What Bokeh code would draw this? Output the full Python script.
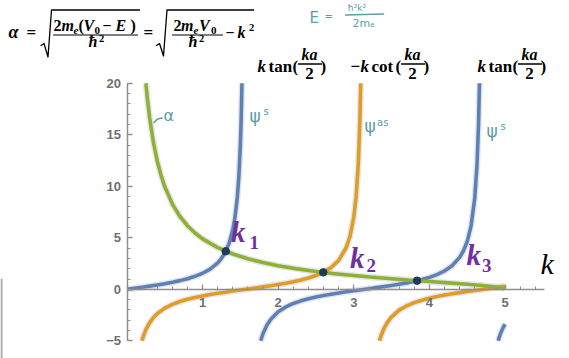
from bokeh.plotting import figure
from bokeh.models import LinearAxis, FixedTicker, Range1d
from bokeh.core.properties import value
from bokeh.embed import file_html
from bokeh.resources import INLINE

# ---------------- data ----------------
# k tan(ka/2) (blue), branch 1
tan1_k = [0, 0.1, 0.2, 0.3, 0.4, 0.5, 0.6, 0.7, 0.8, 0.9, 1.0, 1.1, 1.2, 1.25, 1.3,
          1.35, 1.4, 1.43, 1.46, 1.48, 1.5, 1.51, 1.5208]
tan1_y = [0, 0.100, 0.203, 0.309, 0.423, 0.546, 0.684, 0.842, 1.030, 1.260, 1.557,
          1.965, 2.572, 3.010, 3.602, 4.455, 5.798, 7.06, 8.99, 10.99, 14.10, 16.43, 20.0]
# blue, branch 2
tan2_k = [1.7682, 1.8, 1.85, 1.9, 2.0, 2.1, 2.2, 2.3, 2.4, 2.5, 2.6, 2.7, 2.8, 2.9, 3.0,
          3.1, 3.2, 3.3, 3.4, 3.5, 3.6, 3.7, 3.8, 3.9, 4.0, 4.1, 4.2, 4.3, 4.4, 4.45, 4.5,
          4.55, 4.6, 4.63, 4.65, 4.6624]
tan2_y = [-5.0, -4.286, -3.488, -2.927, -2.185, -1.710, -1.374, -1.119, -0.915, -0.747,
          -0.602, -0.472, -0.356, -0.246, -0.143, -0.042, 0.058, 0.160, 0.264, 0.375,
          0.494, 0.625, 0.774, 0.947, 1.158, 1.424, 1.778, 2.286, 3.096, 3.723, 4.637,
          6.105, 8.86, 12.11, 16.0, 20.0]
# blue, branch 3
tan3_k = [4.9098, 4.93, 4.95, 4.975, 5.0]
tan3_y = [-5.0, -4.523, -4.132, -3.720, -3.381]
# -k cot(ka/2) (orange), branch 1
cot1_k = [0.1974, 0.22, 0.25, 0.3, 0.35, 0.4, 0.5, 0.6, 0.7, 0.8, 0.9, 1.0, 1.1, 1.2, 1.3,
          1.4, 1.5, 1.6, 1.7, 1.8, 1.9, 2.0, 2.1, 2.2, 2.3, 2.4, 2.5, 2.6, 2.7, 2.8, 2.9,
          2.95, 3.0, 3.03, 3.06, 3.08, 3.0916]
cot1_y = [-5.0, -4.472, -3.916, -3.233, -2.740, -2.365, -1.830, -1.462, -1.187, -0.971,
          -0.794, -0.642, -0.509, -0.389, -0.278, -0.172, -0.071, 0.029, 0.130, 0.233,
          0.342, 0.458, 0.585, 0.728, 0.894, 1.093, 1.339, 1.662, 2.118, 2.813, 4.058,
          5.155, 7.018, 8.92, 12.23, 16.21, 20.0]
# orange, branch 2
cot2_k = [3.339, 3.36, 3.4, 3.45, 3.5, 3.6, 3.7, 3.8, 3.9, 4.0, 4.1, 4.2, 4.3, 4.4, 4.5,
          4.6, 4.7, 4.8, 4.9, 5.0]
cot2_y = [-5.0, -4.507, -3.784, -3.140, -2.669, -2.026, -1.601, -1.293, -1.056, -0.864,
          -0.703, -0.563, -0.437, -0.323, -0.216, -0.113, -0.012, 0.088, 0.190, 0.296]
# alpha (green)
alpha_k = [0.2497, 0.27, 0.3, 0.35, 0.4, 0.45, 0.5, 0.6, 0.7, 0.8, 0.9, 1.0, 1.2, 1.4, 1.6,
           1.8, 2.0, 2.25, 2.5, 2.75, 3.0, 3.25, 3.5, 3.75, 4.0, 4.25, 4.5, 4.7, 4.85,
           4.95, 4.99, 5.0]
alpha_y = [20.0, 18.49, 16.64, 14.25, 12.46, 11.07, 9.950, 8.273, 7.073, 6.169, 5.465,
           4.899, 4.045, 3.429, 2.961, 2.592, 2.291, 1.985, 1.732, 1.518, 1.333, 1.169,
           1.020, 0.882, 0.750, 0.620, 0.484, 0.363, 0.251, 0.143, 0.063, 0.0]
# intersections k1, k2, k3
roots_k = [1.306, 2.596, 3.837]
roots_y = [3.694, 1.646, 0.836]
root_names = ["1", "2", "3"]

x_ticks = [1, 2, 3, 4, 5]
y_ticks = [-5, 0, 5, 10, 15, 20]

# ---------------- layout ----------------
W, H = 569, 358
PX0, PXU = 126.5, 75.6      # pixel of k=0, pixels per unit
PY0, PYU = 288.8, 10.3      # pixel of y=0, pixels per unit
XS, XE = -PX0 / PXU, (W - PX0) / PXU
YS, YE = (PY0 - H) / PYU, PY0 / PYU

BLUE = "#5E81B5"
ORANGE = "#E19C24"
GREEN = "#8FB032"
TEAL = "#5b9ea8"
PURPLE = "#7030A0"
AXIS = "#8f8f8f"

p = figure(width=W, height=H, x_range=Range1d(XS, XE), y_range=Range1d(YS, YE),
           x_axis_type=None, y_axis_type=None, toolbar_location=None,
           output_backend="svg", min_border=0, outline_line_color=None)
p.background_fill_color = "white"
p.border_fill_color = "white"


def X(px):
    return XS + px / W * (XE - XS)


def Y(py):
    return YE - py / H * (YE - YS)


def style_axis(ax, standoff):
    ax.axis_line_color = AXIS
    ax.axis_line_width = 1.5
    ax.major_tick_line_color = AXIS
    ax.minor_tick_line_color = AXIS
    ax.major_tick_line_width = 1.3
    ax.minor_tick_line_width = 1.0
    ax.major_tick_in = 5
    ax.major_tick_out = 0
    ax.minor_tick_in = 3
    ax.minor_tick_out = 0
    ax.major_label_text_font = "Liberation Sans"
    ax.major_label_text_font_size = "13px"
    ax.major_label_text_font_style = "bold"
    ax.major_label_text_color = "#6f6f6f"
    ax.major_label_standoff = standoff


xaxis = LinearAxis(fixed_location=0, bounds=(0, 5.52),
                   ticker=FixedTicker(ticks=x_ticks,
                                      minor_ticks=[round(0.2 * i, 1) for i in range(1, 28)]))
style_axis(xaxis, 9)
yaxis = LinearAxis(fixed_location=0, bounds=(-5, 20),
                   ticker=FixedTicker(ticks=y_ticks, minor_ticks=list(range(-5, 21))))
style_axis(yaxis, 6)
yaxis.major_label_overrides = {-5: "\u22125"}
p.add_layout(xaxis, "below")
p.add_layout(yaxis, "left")

# ---------------- curves ----------------
curves = [(tan1_k, tan1_y, BLUE), (tan2_k, tan2_y, BLUE), (tan3_k, tan3_y, BLUE),
          (cot1_k, cot1_y, ORANGE), (cot2_k, cot2_y, ORANGE), (alpha_k, alpha_y, GREEN)]
for ks, ys, c in curves:
    p.line(ks, ys, line_color="#c3c8d0", line_width=6.5, line_alpha=0.45, line_join="round")
for ks, ys, c in curves:
    p.line(ks, ys, line_color=c, line_width=3.6, line_join="round")

p.scatter(roots_k, roots_y, size=7.5, fill_color="#1f3b5a", line_color="#1f3b5a")

BASE_FIX = 0.4  # rendered text sits this many em lower than the given baseline


def txt(px, py, s, size, style="bold", color="black", font="Liberation Serif",
        align="left"):
    p.text(x=[X(px)], y=[Y(py - BASE_FIX * size)], text=[s], text_font=value(font),
           text_font_size=f"{size}px", text_font_style=style, text_color=color,
           text_align=align, text_baseline="alphabetic")


def stroke(pts, color="black", width=1.3):
    p.line([X(a) for a, b in pts], [Y(b) for a, b in pts], line_color=color,
           line_width=width, line_join="round", line_cap="round")


# left-edge grey rule visible at the bottom-left of the picture
stroke([(1, 279), (1, 358)], color="#a8a8a8", width=2)

# ---------------- root labels ----------------
k_lab = [(230.5, 243, 249, 250), (349.5, 269.5, 366, 272.5), (466, 266, 481.5, 273)]
for (kx, ky, sx, sy), n in zip(k_lab, root_names):
    txt(kx, ky, "k", 29, "bold italic", PURPLE)
    txt(sx, sy, n, 19, "bold", PURPLE)

txt(540, 275, "k", 30, "italic", "black")

# ---------------- top formula ----------------
txt(8, 38.5, "\u03b1", 18, "bold italic")
txt(26, 38.5, "=", 17, "bold")
stroke([(40.5, 45), (43.5, 43), (47.5, 56.5), (51, 9.5), (139, 9.5)])
txt(53, 31, "2", 16)
txt(61, 31, "m", 16, "bold italic")
txt(73, 34.5, "e", 11, "bold italic")
txt(78, 31, "(", 16)
txt(83, 31, "V", 16, "bold italic")
txt(94, 34.5, "0", 11)
txt(102, 31, "\u2212", 16)
txt(115, 31, "E", 16, "bold italic")
txt(130, 31, ")", 16)
stroke([(53, 34.5), (137, 34.5)], width=1.2)
txt(88, 47.5, "\u0127", 16, "bold italic")
txt(98.5, 42, "2", 10.5)

txt(143, 38.5, "=", 17, "bold")
stroke([(156, 45), (159, 43), (163, 55.5), (166.5, 9.5), (253, 9.5)])
txt(173, 31, "2", 16)
txt(180.5, 31, "m", 16, "bold italic")
txt(193, 34.5, "e", 11, "bold italic")
txt(198.5, 31, "V", 16, "bold italic")
txt(210.5, 34.5, "0", 11)
stroke([(172, 34.5), (222, 34.5)], width=1.2)
txt(188, 47.5, "\u0127", 16, "bold italic")
txt(198.5, 42, "2", 10.5)
txt(225, 38.5, "\u2212", 16)
txt(237, 38.5, "k", 16, "bold italic")
txt(248.5, 31, "2", 10.5)


# ---------------- function labels ----------------
def func_label(x0, name, minus=False):
    x = x0
    if minus:
        txt(x, 73, "\u2212", 17)
        x += 10
    txt(x, 73, "k", 17, "bold italic")
    txt(x + 11, 73, name, 17)
    txt(x + 35, 73, "(", 17)
    txt(x + 52, 60.5, "ka", 16, "bold italic", align="center")
    stroke([(x + 41, 63.5), (x + 64, 63.5)], width=1.3)
    txt(x + 52, 79.5, "2", 17, align="center")
    txt(x + 63, 73, ")", 17)


func_label(257, "tan")
func_label(350, "cot", minus=True)
func_label(477, "tan")

# ---------------- handwritten notes ----------------
txt(309, 23.5, "E", 15, "normal", TEAL, "DejaVu Sans")
txt(324, 20, "=", 10, "normal", TEAL, "DejaVu Sans")
txt(347, 11, "\u0127\u00b2k\u00b2", 9, "normal", TEAL, "DejaVu Sans")
stroke([(345, 14.5), (383, 13.5)], color=TEAL, width=1.6)
txt(352, 27.5, "2m\u2091", 11, "normal", TEAL, "DejaVu Sans")

stroke([(153.5, 122), (157, 118.5), (161.5, 117.5)], color=TEAL, width=1.6)
txt(163, 121, "\u03b1", 16, "normal", TEAL, "DejaVu Sans")

txt(249, 122, "\u03c8", 17, "normal", TEAL, "DejaVu Sans")
txt(263, 115, "s", 10, "normal", TEAL, "DejaVu Sans")
txt(364, 132, "\u03c8", 17, "normal", TEAL, "DejaVu Sans")
txt(376.5, 126, "as", 10, "normal", TEAL, "DejaVu Sans")
txt(486, 137, "\u03c8", 17, "normal", TEAL, "DejaVu Sans")
txt(500, 129.5, "s", 10, "normal", TEAL, "DejaVu Sans")

open("out.html", "w").write(file_html(p, INLINE))
